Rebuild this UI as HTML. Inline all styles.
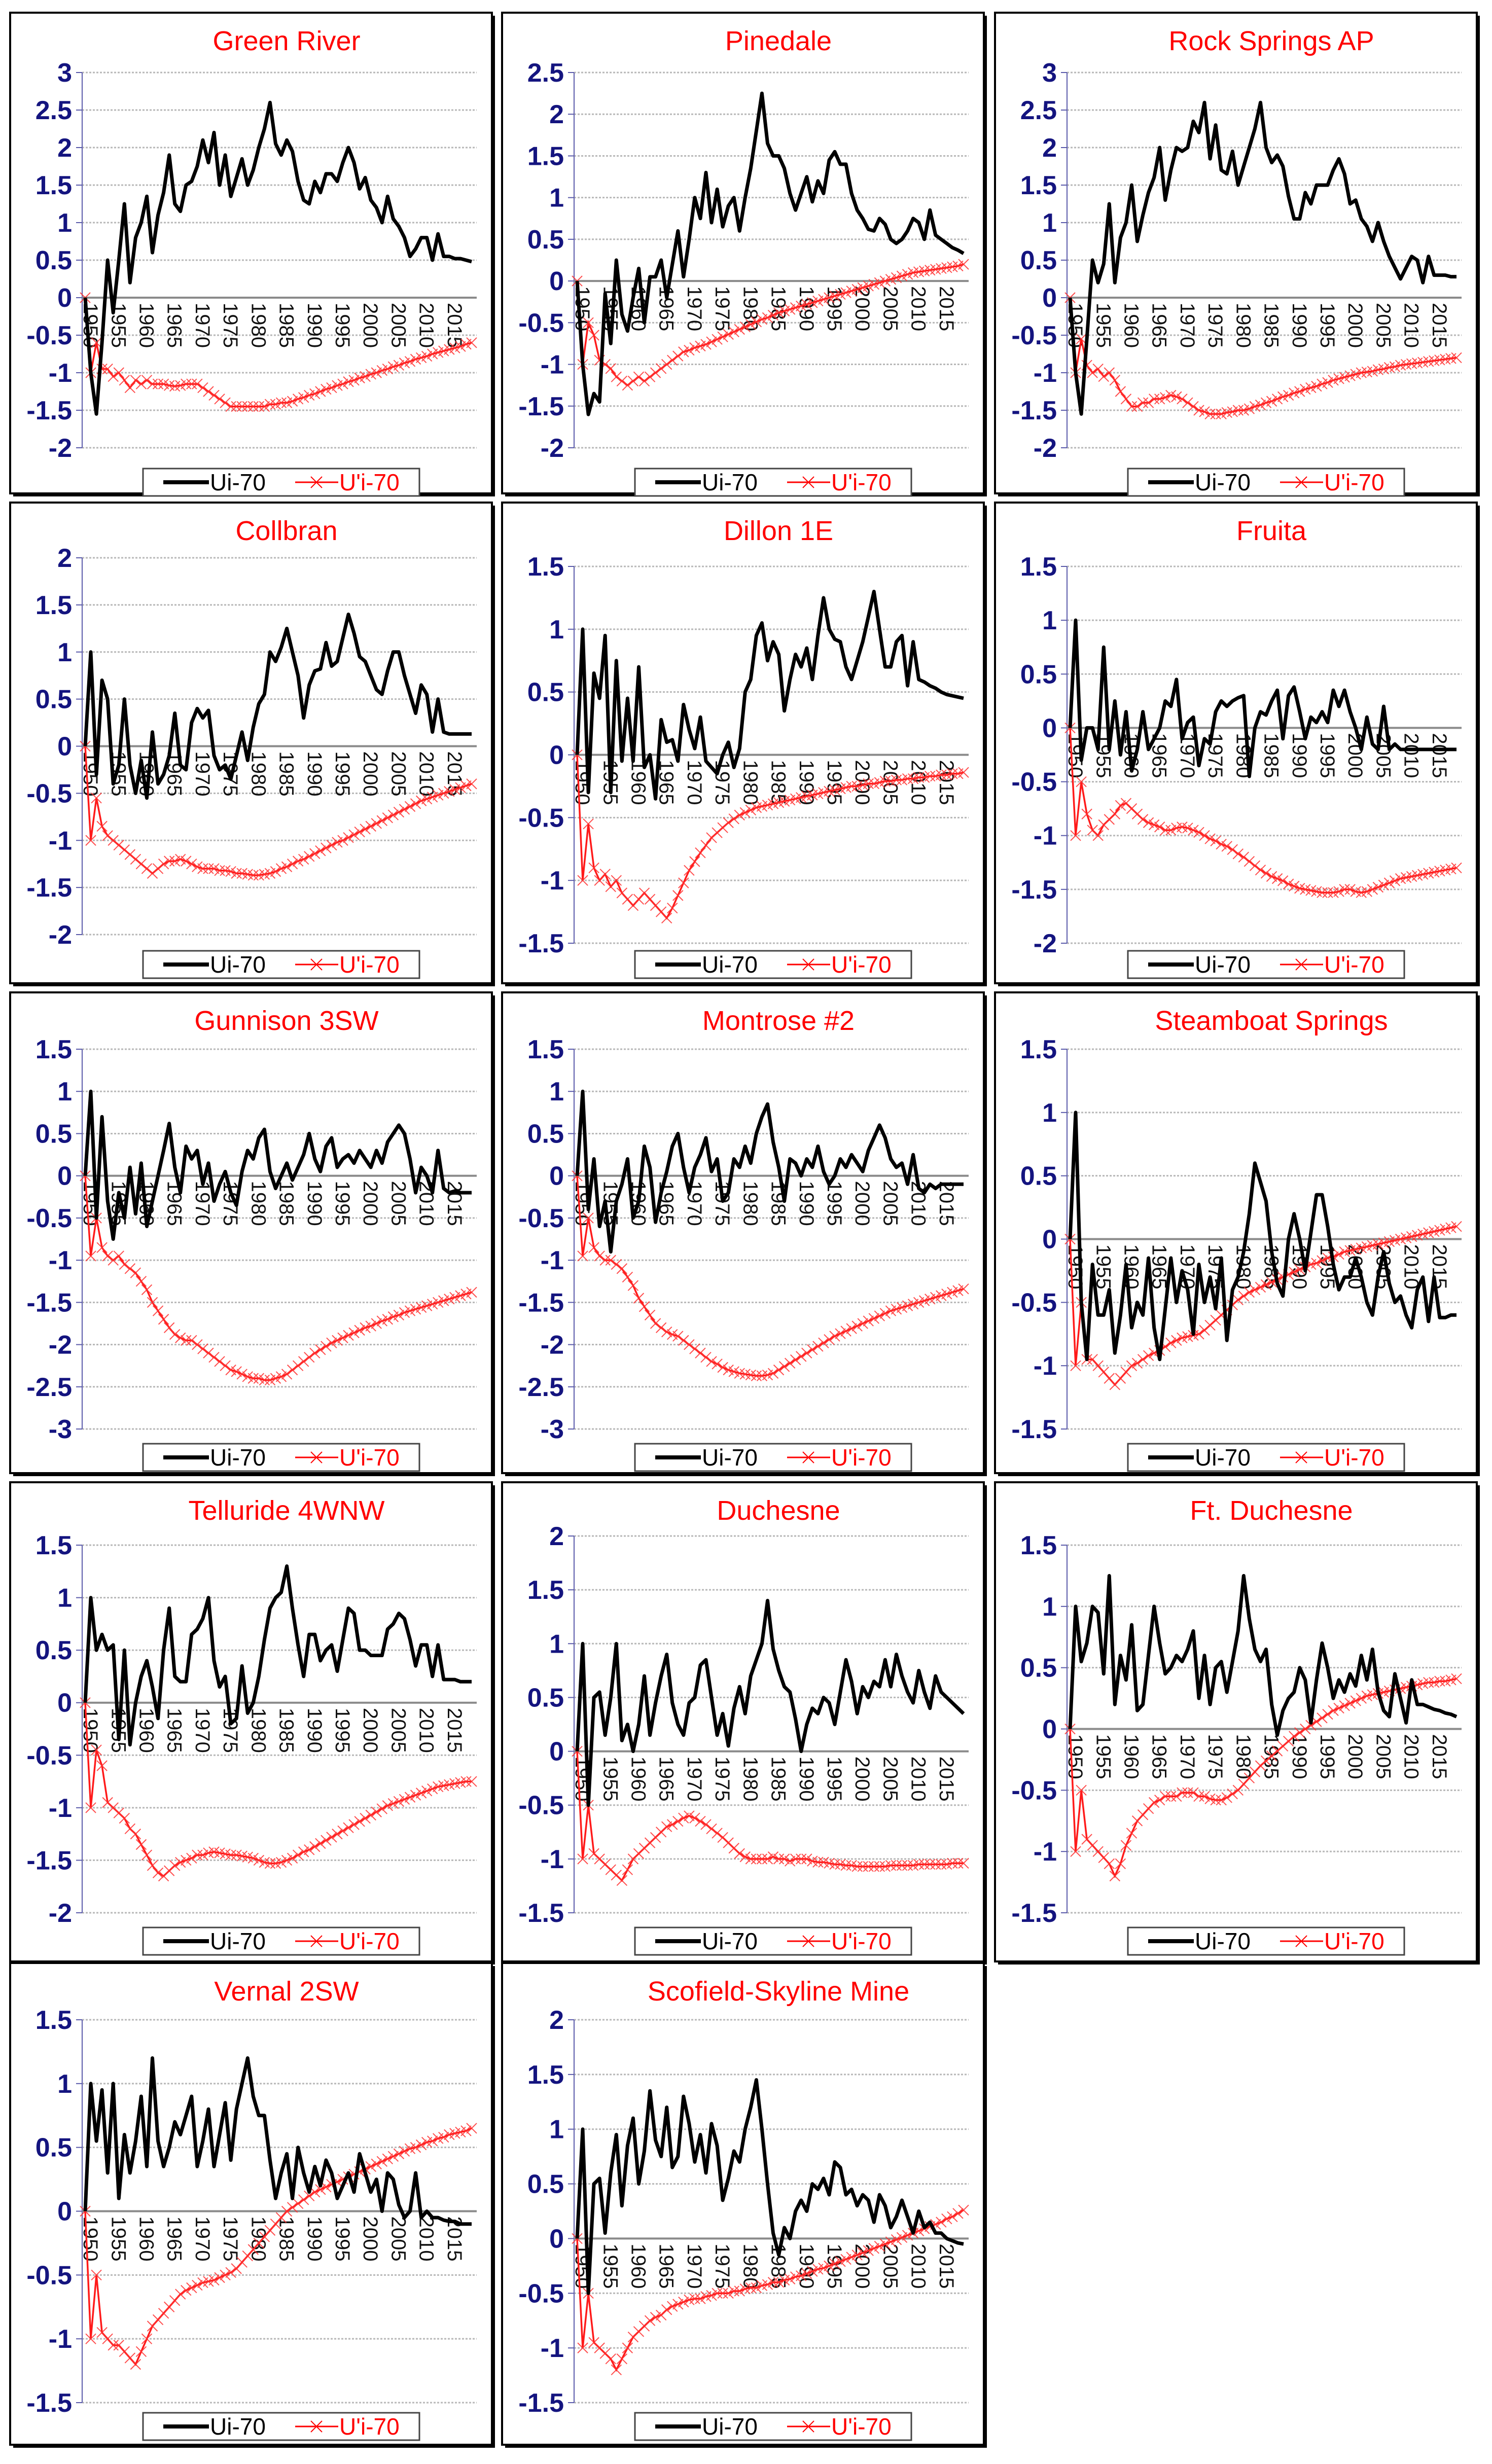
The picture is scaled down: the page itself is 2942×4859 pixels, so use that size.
<!DOCTYPE html>
<html><head><meta charset="utf-8"><style>
html,body{margin:0;padding:0;background:#fff;}
svg{display:block;font-family:"Liberation Sans",sans-serif;}
</style></head><body>
<svg id="fig" width="2942" height="4859" viewBox="0 0 2942 4859" xmlns="http://www.w3.org/2000/svg">
<rect x="0" y="0" width="2942" height="4859" fill="#fff"/>
</svg>
<script>
const yearTicks = [1950,1955,1960,1965,1970,1975,1980,1985,1990,1995,2000,2005,2010,2015];
const firstYear = 1949;
const lastYear = 2018;

const greenRiverUi = [0,-1.0,-1.55,-0.6,0.5,-0.2,0.5,1.25,0.2,0.8,1.0,1.35,0.6,1.1,1.4,1.9,1.25,1.15,1.5,1.55,1.75,2.1,1.8,2.2,1.5,1.9,1.35,1.6,1.85,1.5,1.7,2.0,2.25,2.6,2.05,1.9,2.1,1.95,1.55,1.3,1.25,1.55,1.4,1.65,1.65,1.55,1.8,2.0,1.8,1.45,1.6,1.3,1.2,1.0,1.35,1.05,0.95,0.8,0.55,0.65,0.8,0.8,0.5,0.85,0.55,0.55,0.52,0.52,0.5,0.48];
const greenRiverUp = [0,-1.0,-0.6,-0.95,-0.95,-1.05,-1.0,-1.1,-1.2,-1.1,-1.15,-1.1,-1.15,-1.15,-1.15,-1.17,-1.18,-1.17,-1.15,-1.15,-1.15,-1.2,-1.25,-1.3,-1.35,-1.4,-1.45,-1.45,-1.45,-1.45,-1.45,-1.45,-1.45,-1.42,-1.42,-1.4,-1.4,-1.38,-1.35,-1.33,-1.3,-1.28,-1.25,-1.22,-1.2,-1.17,-1.15,-1.12,-1.1,-1.07,-1.05,-1.02,-1.0,-0.97,-0.95,-0.92,-0.9,-0.87,-0.85,-0.82,-0.8,-0.78,-0.75,-0.73,-0.71,-0.69,-0.67,-0.65,-0.62,-0.6];
const pinedaleUi = [0,-1.0,-1.6,-1.35,-1.45,-0.15,-0.75,0.25,-0.4,-0.6,-0.2,0.15,-0.5,0.05,0.05,0.25,-0.2,0.2,0.6,0.05,0.5,1.0,0.75,1.3,0.7,1.1,0.65,0.9,1.0,0.6,1.0,1.35,1.8,2.25,1.65,1.5,1.5,1.35,1.05,0.85,1.05,1.25,0.95,1.2,1.05,1.45,1.55,1.4,1.4,1.05,0.85,0.75,0.62,0.6,0.75,0.68,0.5,0.45,0.5,0.6,0.75,0.7,0.5,0.85,0.55,0.5,0.45,0.4,0.37,0.33];
const pinedaleUp = [0,-1.0,-0.5,-0.65,-0.95,-1.0,-1.05,-1.15,-1.2,-1.25,-1.2,-1.15,-1.2,-1.15,-1.1,-1.05,-1.0,-0.95,-0.9,-0.85,-0.83,-0.8,-0.78,-0.76,-0.73,-0.7,-0.67,-0.64,-0.61,-0.58,-0.55,-0.52,-0.49,-0.46,-0.44,-0.41,-0.38,-0.36,-0.34,-0.32,-0.3,-0.28,-0.26,-0.24,-0.22,-0.2,-0.18,-0.16,-0.14,-0.12,-0.1,-0.08,-0.06,-0.04,-0.02,0.0,0.02,0.04,0.06,0.08,0.1,0.11,0.12,0.13,0.14,0.15,0.16,0.17,0.18,0.2];
const rockSpringsUi = [0,-1.0,-1.55,-0.55,0.5,0.2,0.45,1.25,0.2,0.8,1.0,1.5,0.75,1.1,1.4,1.6,2.0,1.3,1.7,2.0,1.95,2.0,2.35,2.2,2.6,1.85,2.3,1.7,1.65,1.95,1.5,1.75,2.0,2.25,2.6,2.0,1.8,1.9,1.75,1.35,1.05,1.05,1.4,1.25,1.5,1.5,1.5,1.7,1.85,1.65,1.25,1.3,1.05,0.95,0.75,1.0,0.75,0.55,0.4,0.25,0.4,0.55,0.5,0.2,0.55,0.3,0.3,0.3,0.28,0.28];
const rockSpringsUp = [0,-1.0,-0.55,-0.9,-1.0,-0.95,-1.05,-1.0,-1.1,-1.25,-1.35,-1.45,-1.45,-1.4,-1.4,-1.35,-1.35,-1.33,-1.3,-1.32,-1.35,-1.4,-1.45,-1.5,-1.52,-1.55,-1.55,-1.55,-1.53,-1.52,-1.5,-1.5,-1.48,-1.45,-1.43,-1.4,-1.38,-1.35,-1.32,-1.3,-1.27,-1.25,-1.22,-1.2,-1.18,-1.15,-1.13,-1.1,-1.08,-1.06,-1.04,-1.02,-1.0,-0.99,-0.98,-0.96,-0.95,-0.93,-0.92,-0.9,-0.89,-0.88,-0.87,-0.86,-0.85,-0.84,-0.83,-0.82,-0.81,-0.8];
const collbranUi = [0,1.0,-0.3,0.7,0.5,-0.4,-0.2,0.5,-0.2,-0.5,-0.15,-0.55,0.15,-0.4,-0.3,-0.1,0.35,-0.2,-0.25,0.25,0.4,0.3,0.38,-0.1,-0.25,-0.2,-0.35,-0.1,0.15,-0.15,0.2,0.45,0.55,1.0,0.9,1.05,1.25,1.0,0.75,0.3,0.65,0.8,0.82,1.1,0.85,0.9,1.15,1.4,1.2,0.95,0.9,0.75,0.6,0.55,0.8,1.0,1.0,0.75,0.55,0.35,0.65,0.55,0.15,0.5,0.15,0.13,0.13,0.13,0.13,0.13];
const collbranUp = [0,-1.0,-0.55,-0.85,-0.95,-1.0,-1.05,-1.1,-1.15,-1.2,-1.25,-1.3,-1.35,-1.3,-1.25,-1.22,-1.22,-1.2,-1.22,-1.25,-1.28,-1.3,-1.3,-1.3,-1.32,-1.32,-1.33,-1.35,-1.35,-1.36,-1.37,-1.37,-1.36,-1.35,-1.33,-1.3,-1.28,-1.25,-1.22,-1.2,-1.17,-1.14,-1.11,-1.08,-1.05,-1.02,-1.0,-0.97,-0.94,-0.91,-0.88,-0.85,-0.82,-0.79,-0.76,-0.73,-0.7,-0.67,-0.64,-0.61,-0.58,-0.56,-0.54,-0.52,-0.5,-0.48,-0.46,-0.44,-0.42,-0.4];
const dillonUi = [0,1.0,-0.3,0.65,0.45,0.95,-0.3,0.75,-0.05,0.45,-0.05,0.7,-0.1,0.0,-0.35,0.28,0.1,0.12,-0.05,0.4,0.2,0.05,0.3,-0.05,-0.1,-0.15,0.0,0.1,-0.1,0.05,0.5,0.6,0.95,1.05,0.75,0.9,0.8,0.35,0.6,0.8,0.7,0.85,0.6,0.95,1.25,1.0,0.92,0.9,0.7,0.6,0.75,0.9,1.1,1.3,1.0,0.7,0.7,0.9,0.95,0.55,0.9,0.6,0.58,0.55,0.53,0.5,0.48,0.47,0.46,0.45];
const dillonUp = [0,-1.0,-0.55,-0.9,-1.0,-0.95,-1.05,-1.0,-1.1,-1.15,-1.2,-1.15,-1.1,-1.15,-1.2,-1.25,-1.3,-1.22,-1.12,-1.02,-0.92,-0.85,-0.78,-0.72,-0.66,-0.62,-0.58,-0.54,-0.51,-0.48,-0.46,-0.44,-0.42,-0.41,-0.4,-0.39,-0.38,-0.37,-0.36,-0.35,-0.34,-0.33,-0.32,-0.31,-0.3,-0.29,-0.28,-0.27,-0.26,-0.25,-0.25,-0.24,-0.23,-0.23,-0.22,-0.21,-0.21,-0.2,-0.2,-0.19,-0.19,-0.18,-0.18,-0.17,-0.17,-0.16,-0.16,-0.15,-0.15,-0.14];
const fruitaUi = [0,1.0,-0.3,0.0,0.0,-0.2,0.75,-0.2,0.25,-0.25,0.15,-0.4,-0.2,0.15,-0.2,-0.1,0.0,0.25,0.2,0.45,-0.1,0.05,0.1,-0.35,-0.1,-0.15,0.15,0.25,0.2,0.25,0.28,0.3,-0.45,0.0,0.15,0.12,0.25,0.35,-0.1,0.3,0.38,0.15,-0.1,0.1,0.05,0.15,0.05,0.35,0.2,0.35,0.15,0.0,-0.2,0.1,-0.15,-0.2,0.2,-0.2,-0.15,-0.2,-0.2,-0.2,-0.2,-0.2,-0.2,-0.2,-0.2,-0.2,-0.2,-0.2];
const fruitaUp = [0,-1.0,-0.5,-0.8,-0.95,-1.0,-0.9,-0.85,-0.8,-0.72,-0.7,-0.75,-0.8,-0.85,-0.88,-0.9,-0.92,-0.95,-0.95,-0.93,-0.92,-0.93,-0.95,-0.97,-1.0,-1.03,-1.05,-1.08,-1.1,-1.13,-1.17,-1.2,-1.24,-1.28,-1.32,-1.35,-1.38,-1.4,-1.42,-1.45,-1.47,-1.49,-1.5,-1.51,-1.52,-1.53,-1.53,-1.53,-1.52,-1.5,-1.5,-1.52,-1.53,-1.52,-1.5,-1.48,-1.46,-1.44,-1.42,-1.4,-1.39,-1.38,-1.37,-1.36,-1.35,-1.34,-1.33,-1.32,-1.31,-1.3];
const gunnisonUi = [0,1.0,-0.5,0.7,-0.3,-0.75,-0.2,-0.5,0.1,-0.45,0.15,-0.6,-0.3,0.0,0.3,0.62,0.1,-0.2,0.35,0.2,0.3,-0.1,0.15,-0.3,-0.1,0.05,-0.2,-0.35,0.05,0.3,0.2,0.45,0.55,0.05,-0.15,0.0,0.15,-0.05,0.1,0.25,0.5,0.2,0.05,0.35,0.45,0.1,0.2,0.25,0.15,0.3,0.2,0.1,0.3,0.15,0.4,0.5,0.6,0.5,0.2,-0.2,0.1,0.0,-0.2,0.3,-0.15,-0.2,-0.18,-0.2,-0.2,-0.2];
const gunnisonUp = [0,-0.95,-0.5,-0.85,-0.95,-1.0,-0.95,-1.05,-1.1,-1.15,-1.25,-1.35,-1.5,-1.6,-1.7,-1.8,-1.88,-1.92,-1.95,-1.95,-2.0,-2.05,-2.1,-2.15,-2.2,-2.25,-2.3,-2.32,-2.35,-2.38,-2.4,-2.4,-2.42,-2.42,-2.4,-2.38,-2.35,-2.3,-2.25,-2.2,-2.15,-2.1,-2.06,-2.02,-1.98,-1.95,-1.92,-1.89,-1.86,-1.83,-1.8,-1.78,-1.75,-1.72,-1.7,-1.67,-1.65,-1.62,-1.6,-1.58,-1.56,-1.54,-1.52,-1.5,-1.48,-1.46,-1.44,-1.42,-1.4,-1.38];
const montroseUi = [0,1.0,-0.4,0.2,-0.6,-0.3,-0.9,-0.3,-0.1,0.2,-0.5,-0.3,0.35,0.1,-0.55,-0.2,0.05,0.35,0.5,0.1,-0.2,0.1,0.25,0.45,0.05,0.2,-0.3,-0.2,0.2,0.1,0.35,0.15,0.5,0.7,0.85,0.4,0.1,-0.3,0.2,0.15,0.0,0.2,0.1,0.35,0.05,-0.1,0.0,0.2,0.1,0.25,0.15,0.05,0.3,0.45,0.6,0.45,0.2,0.1,0.15,-0.1,0.25,-0.15,-0.2,-0.1,-0.15,-0.1,-0.1,-0.1,-0.1,-0.1];
const montroseUp = [0,-0.95,-0.5,-0.85,-0.95,-1.0,-1.0,-1.05,-1.1,-1.2,-1.3,-1.45,-1.55,-1.65,-1.75,-1.8,-1.85,-1.88,-1.9,-1.95,-2.0,-2.05,-2.1,-2.15,-2.2,-2.23,-2.27,-2.3,-2.32,-2.34,-2.35,-2.36,-2.37,-2.37,-2.36,-2.34,-2.3,-2.26,-2.22,-2.18,-2.14,-2.1,-2.06,-2.02,-1.98,-1.94,-1.9,-1.87,-1.84,-1.81,-1.78,-1.75,-1.72,-1.69,-1.66,-1.63,-1.6,-1.58,-1.56,-1.54,-1.52,-1.5,-1.48,-1.46,-1.44,-1.42,-1.4,-1.38,-1.36,-1.34];
const steamboatUi = [0,1.0,-0.5,-0.95,-0.2,-0.6,-0.6,-0.4,-0.9,-0.6,-0.2,-0.7,-0.5,-0.6,-0.15,-0.7,-0.95,-0.55,-0.15,-0.5,-0.25,-0.4,-0.75,-0.2,-0.5,-0.3,-0.55,-0.15,-0.8,-0.4,-0.3,-0.1,0.2,0.6,0.45,0.3,-0.1,-0.35,-0.45,0.0,0.2,0.0,-0.25,0.05,0.35,0.35,0.1,-0.2,-0.4,-0.3,-0.3,-0.15,-0.3,-0.5,-0.6,-0.3,-0.1,-0.35,-0.5,-0.45,-0.6,-0.7,-0.4,-0.3,-0.65,-0.3,-0.62,-0.62,-0.6,-0.6];
const steamboatUp = [0,-1.0,-0.5,-0.95,-0.95,-1.0,-1.05,-1.1,-1.15,-1.1,-1.05,-1.0,-0.98,-0.95,-0.92,-0.9,-0.88,-0.85,-0.82,-0.8,-0.78,-0.77,-0.76,-0.75,-0.72,-0.68,-0.64,-0.6,-0.56,-0.52,-0.48,-0.45,-0.42,-0.4,-0.38,-0.36,-0.34,-0.32,-0.3,-0.28,-0.26,-0.24,-0.22,-0.2,-0.19,-0.17,-0.15,-0.14,-0.12,-0.1,-0.09,-0.08,-0.07,-0.06,-0.05,-0.04,-0.03,-0.02,-0.01,0.0,0.01,0.02,0.03,0.04,0.05,0.06,0.07,0.08,0.09,0.1];
const tellurideUi = [0,1.0,0.5,0.65,0.5,0.55,-0.35,0.5,-0.4,0.0,0.25,0.4,0.15,-0.15,0.5,0.9,0.25,0.2,0.2,0.65,0.7,0.8,1.0,0.4,0.15,0.25,-0.2,-0.15,0.35,-0.1,0.0,0.25,0.6,0.9,1.0,1.05,1.3,0.9,0.55,0.25,0.65,0.65,0.4,0.5,0.55,0.3,0.6,0.9,0.85,0.5,0.5,0.45,0.45,0.45,0.7,0.75,0.85,0.8,0.6,0.35,0.55,0.55,0.25,0.55,0.22,0.22,0.22,0.2,0.2,0.2];
const tellurideUp = [0,-1.0,-0.45,-0.6,-0.95,-1.0,-1.05,-1.1,-1.2,-1.25,-1.35,-1.45,-1.55,-1.62,-1.65,-1.6,-1.55,-1.52,-1.5,-1.48,-1.45,-1.45,-1.43,-1.42,-1.43,-1.44,-1.45,-1.45,-1.46,-1.47,-1.48,-1.5,-1.52,-1.53,-1.53,-1.52,-1.5,-1.48,-1.45,-1.42,-1.4,-1.37,-1.34,-1.31,-1.28,-1.25,-1.22,-1.19,-1.16,-1.13,-1.1,-1.07,-1.04,-1.01,-0.98,-0.96,-0.94,-0.92,-0.9,-0.88,-0.86,-0.84,-0.82,-0.8,-0.79,-0.78,-0.77,-0.76,-0.75,-0.75];
const duchesneUi = [0,1.0,-0.5,0.5,0.55,0.15,0.5,1.0,0.1,0.25,0.0,0.25,0.7,0.15,0.45,0.7,0.9,0.45,0.25,0.15,0.45,0.5,0.8,0.85,0.5,0.15,0.35,0.05,0.4,0.6,0.35,0.7,0.85,1.0,1.4,0.95,0.75,0.6,0.55,0.3,0.0,0.25,0.4,0.35,0.5,0.45,0.25,0.55,0.85,0.65,0.35,0.6,0.5,0.65,0.6,0.85,0.6,0.9,0.7,0.55,0.45,0.75,0.55,0.4,0.7,0.55,0.5,0.45,0.4,0.35];
const duchesneUp = [0,-1.0,-0.5,-0.95,-1.0,-1.05,-1.1,-1.15,-1.2,-1.1,-1.0,-0.95,-0.9,-0.85,-0.8,-0.75,-0.7,-0.68,-0.65,-0.62,-0.6,-0.62,-0.65,-0.68,-0.72,-0.76,-0.8,-0.85,-0.9,-0.95,-0.98,-1.0,-1.0,-1.0,-1.0,-0.98,-1.0,-1.0,-1.02,-1.0,-1.0,-1.0,-1.02,-1.03,-1.03,-1.04,-1.05,-1.05,-1.06,-1.06,-1.07,-1.07,-1.07,-1.07,-1.07,-1.07,-1.06,-1.06,-1.06,-1.06,-1.06,-1.05,-1.05,-1.05,-1.05,-1.05,-1.05,-1.04,-1.04,-1.04];
const ftDuchesneUi = [0,1.0,0.55,0.7,1.0,0.95,0.45,1.25,0.2,0.6,0.4,0.85,0.15,0.2,0.6,1.0,0.7,0.45,0.5,0.6,0.55,0.65,0.8,0.25,0.6,0.2,0.5,0.55,0.3,0.55,0.8,1.25,0.9,0.65,0.55,0.65,0.2,-0.05,0.15,0.25,0.3,0.5,0.4,0.05,0.4,0.7,0.5,0.25,0.4,0.3,0.45,0.35,0.6,0.4,0.65,0.3,0.15,0.1,0.45,0.25,0.05,0.4,0.2,0.2,0.18,0.16,0.15,0.13,0.12,0.1];
const ftDuchesneUp = [0,-1.0,-0.5,-0.9,-0.95,-1.0,-1.05,-1.1,-1.2,-1.1,-0.95,-0.85,-0.75,-0.7,-0.65,-0.6,-0.58,-0.55,-0.55,-0.55,-0.52,-0.52,-0.52,-0.55,-0.55,-0.57,-0.58,-0.58,-0.56,-0.53,-0.5,-0.45,-0.4,-0.35,-0.3,-0.26,-0.22,-0.18,-0.14,-0.1,-0.06,-0.03,0.0,0.03,0.06,0.09,0.12,0.15,0.17,0.19,0.21,0.23,0.25,0.27,0.28,0.29,0.3,0.31,0.32,0.33,0.34,0.35,0.36,0.37,0.38,0.38,0.39,0.39,0.4,0.41];
const vernalUi = [0,1.0,0.55,0.95,0.3,1.0,0.1,0.6,0.3,0.55,0.9,0.35,1.2,0.55,0.35,0.5,0.7,0.6,0.75,0.9,0.35,0.55,0.8,0.35,0.6,0.85,0.4,0.8,1.0,1.2,0.9,0.75,0.75,0.4,0.1,0.3,0.45,0.1,0.5,0.3,0.15,0.35,0.2,0.4,0.3,0.1,0.2,0.3,0.15,0.45,0.3,0.15,0.25,0.0,0.3,0.25,0.05,-0.05,0.0,0.3,-0.05,0.0,-0.05,-0.05,-0.07,-0.08,-0.08,-0.1,-0.1,-0.1];
const vernalUp = [0,-1.0,-0.5,-0.95,-1.0,-1.05,-1.05,-1.1,-1.15,-1.2,-1.1,-1.0,-0.9,-0.85,-0.8,-0.75,-0.7,-0.65,-0.62,-0.6,-0.58,-0.56,-0.55,-0.54,-0.52,-0.5,-0.48,-0.45,-0.4,-0.35,-0.3,-0.25,-0.2,-0.15,-0.1,-0.05,0.0,0.03,0.06,0.09,0.12,0.15,0.17,0.19,0.21,0.23,0.25,0.27,0.29,0.31,0.33,0.35,0.37,0.39,0.41,0.43,0.45,0.47,0.49,0.5,0.52,0.54,0.55,0.57,0.58,0.6,0.61,0.62,0.63,0.65];
const scofieldUi = [0,1.0,-0.5,0.5,0.55,0.05,0.6,0.95,0.3,0.85,1.1,0.5,0.8,1.35,0.9,0.75,1.2,0.65,0.75,1.3,1.05,0.7,0.95,0.6,1.05,0.85,0.35,0.55,0.8,0.7,1.0,1.2,1.45,1.0,0.5,0.05,-0.15,0.1,0.0,0.25,0.35,0.25,0.5,0.45,0.55,0.4,0.7,0.65,0.4,0.45,0.3,0.4,0.35,0.15,0.4,0.3,0.1,0.2,0.35,0.2,0.05,0.25,0.1,0.15,0.05,0.05,0.0,-0.02,-0.04,-0.05];
const scofieldUp = [0,-1.0,-0.5,-0.95,-1.0,-1.05,-1.1,-1.2,-1.1,-1.0,-0.9,-0.85,-0.8,-0.75,-0.72,-0.7,-0.65,-0.62,-0.6,-0.58,-0.56,-0.55,-0.55,-0.53,-0.52,-0.5,-0.5,-0.5,-0.48,-0.48,-0.46,-0.45,-0.45,-0.43,-0.42,-0.4,-0.4,-0.38,-0.37,-0.35,-0.34,-0.32,-0.3,-0.28,-0.27,-0.25,-0.23,-0.21,-0.19,-0.17,-0.15,-0.13,-0.11,-0.09,-0.07,-0.05,-0.03,-0.01,0.01,0.03,0.05,0.07,0.09,0.11,0.13,0.15,0.18,0.2,0.23,0.26];

const panelNames = ["Green River","Pinedale","Rock Springs AP","Collbran","Dillon 1E","Fruita","Gunnison 3SW","Montrose #2","Steamboat Springs","Telluride 4WNW","Duchesne","Ft. Duchesne","Vernal 2SW","Scofield-Skyline Mine"];
const panelYMax = [3,2.5,3,2,1.5,1.5,1.5,1.5,1.5,1.5,2,1.5,1.5,2];
const panelYMin = [-2,-2,-2,-2,-1.5,-2,-3,-3,-1.5,-2,-1.5,-1.5,-1.5,-1.5];
const panelUi = [greenRiverUi,pinedaleUi,rockSpringsUi,collbranUi,dillonUi,fruitaUi,gunnisonUi,montroseUi,steamboatUi,tellurideUi,duchesneUi,ftDuchesneUi,vernalUi,scofieldUi];
const panelUp = [greenRiverUp,pinedaleUp,rockSpringsUp,collbranUp,dillonUp,fruitaUp,gunnisonUp,montroseUp,steamboatUp,tellurideUp,duchesneUp,ftDuchesneUp,vernalUp,scofieldUp];

const NS = "http://www.w3.org/2000/svg";
const svg = document.getElementById('fig');
const colL = [20, 990, 1962];
const rowT = [25, 991, 1957, 2923, 3871];
const topOff = [[118,118,118],[109,126,126],[112,112,112],[124,106,124],[112,112]];
const botOff = [[858,858,858],[852,869,869],[861,861,861],[849,849,849],[867,867]];
const legOff = [926,911,917,905,914];
const panelH = [948,948,948,945,950];

function mk(tag, attrs, parent){
  const e = document.createElementNS(NS, tag);
  for (const k in attrs) e.setAttribute(k, attrs[k]);
  (parent||svg).appendChild(e);
  return e;
}
function slug(s){return s.toLowerCase().replace(/[^a-z0-9]+/g,'-').replace(/-+$/,'');}

panelNames.forEach((name, p) => {
  const row = Math.floor(p/3), col = p%3;
  const L = colL[col], T = rowT[row];
  const g = mk('g', {});
  
  
  const frame = mk('rect', {x:L, y:T, width:950, height:panelH[row], fill:'#fff', stroke:'#000', 'stroke-width':4}, g);
  
  
  const shadowR = mk('rect', {x:L+950, y:T+6, width:6, height:panelH[row], fill:'#000'}, g);
  
  
  const shadowB = mk('rect', {x:L+6, y:T+panelH[row], width:950, height:6, fill:'#000'}, g);
  
  

  const axisX = L + 142, rightX = L + 914;
  const x0 = axisX + 6, x1 = L + 910;
  const yTop = T + topOff[row][col], yBot = T + botOff[row][col];
  const yMax = panelYMax[p], yMin = panelYMin[p];
  const ys = v => yTop + (yMax - v) / (yMax - yMin) * (yBot - yTop);
  const xs = (i, n) => x0 + i * (x1 - x0) / (n - 1);
  const xYear = yr => x0 + (yr - firstYear) * (x1 - x0) / (lastYear - firstYear);

  const title = mk('text', {x:L+545, y:T+74, 'text-anchor':'middle', 'font-size':54, fill:'#ff0000'}, g);
  title.textContent = name;
  
  

  const nT = Math.round((yMax - yMin) / 0.5);
  for (let k = 0; k <= nT; k++) {
    const v = +(yMax - k*0.5).toFixed(2);
    const y = ys(v);
    if (Math.abs(v) > 1e-9) {
      const gl = mk('line', {x1:axisX, x2:rightX+6, y1:y, y2:y, stroke:'#b8b8b8', 'stroke-width':3, 'stroke-dasharray':'4 3'}, g);
      
      
    }
    const tk = mk('line', {x1:axisX-12, x2:axisX, y1:y, y2:y, stroke:'#5a5aaa', 'stroke-width':2}, g);
    
    
    const lb = mk('text', {x:axisX-20, y:y+18, 'text-anchor':'end', 'font-size':52, 'font-weight':'bold', fill:'#14147f'}, g);
    lb.textContent = String(v);
    
    
  }
  const ax = mk('line', {x1:axisX, x2:axisX, y1:yTop, y2:yBot, stroke:'#5a5aaa', 'stroke-width':2}, g);
  
  
  const z = ys(0);
  const zl = mk('line', {x1:axisX, x2:rightX+6, y1:z, y2:z, stroke:'#8a8a8a', 'stroke-width':4}, g);
  
  

  yearTicks.forEach(yr => {
    const x = xYear(yr);
    const t = mk('text', {x:0, y:0, 'font-size':40, fill:'#111', transform:`translate(${x-14},${z+10}) rotate(90)`}, g);
    t.textContent = String(yr);
    
    
  });

  const up = panelUp[p];
  const rp = mk('polyline', {points: up.map((v,i)=>xs(i,up.length).toFixed(1)+','+ys(v).toFixed(1)).join(' '), fill:'none', stroke:'#ff1a1a', 'stroke-width':3.5}, g);
  
  
  const mg = mk('g', {stroke:'#ff3030', 'stroke-width':2, opacity:0.85}, g);
  
  
  up.forEach((v,i) => {
    const cx = xs(i,up.length), cy = ys(v), s = 10;
    const m = mk('path', {d:`M${cx-s},${cy-s}L${cx+s},${cy+s}M${cx-s},${cy+s}L${cx+s},${cy-s}`}, mg);
    
    
  });

  const ui = panelUi[p];
  const bp = mk('polyline', {points: ui.map((v,i)=>xs(i,ui.length).toFixed(1)+','+ys(v).toFixed(1)).join(' '), fill:'none', stroke:'#000', 'stroke-width':7, 'stroke-linejoin':'round'}, g);
  
  

  const lx = L + 262, ly = T + legOff[row];
  const lg = mk('g', {}, g);
  
  
  mk('rect', {x:lx, y:ly-27, width:545, height:54, fill:'#fff', stroke:'#444', 'stroke-width':3}, lg);
  const l1 = mk('line', {x1:lx+40, x2:lx+130, y1:ly, y2:ly, stroke:'#000', 'stroke-width':8}, lg);
  
  
  const t1 = mk('text', {x:lx+132, y:ly+16, 'font-size':46, fill:'#000'}, lg);
  t1.textContent = 'Ui-70';
  
  
  const l2 = mk('line', {x1:lx+300, x2:lx+385, y1:ly, y2:ly, stroke:'#ff0000', 'stroke-width':3}, lg);
  
  
  const cx = lx+342;
  mk('path', {d:`M${cx-11},${ly-11}L${cx+11},${ly+11}M${cx-11},${ly+11}L${cx+11},${ly-11}`, stroke:'#ff0000', 'stroke-width':2}, lg);
  const t2 = mk('text', {x:lx+387, y:ly+16, 'font-size':46, fill:'#ff0000'}, lg);
  t2.textContent = "U'i-70";
  
  
});
</script>
</body></html>
